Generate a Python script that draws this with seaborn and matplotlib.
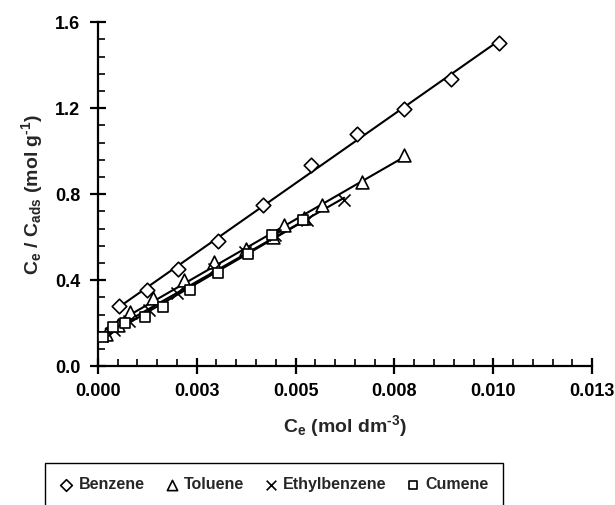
import matplotlib
matplotlib.use("Agg")
import matplotlib.pyplot as plt
import seaborn as sns
from matplotlib.ticker import MultipleLocator

# data
benzene_x = [0.00054, 0.00124, 0.00202, 0.00305, 0.00417, 0.00538, 0.00655, 0.00773, 0.00892, 0.01014]
benzene_y = [0.279, 0.353, 0.454, 0.583, 0.749, 0.938, 1.082, 1.198, 1.335, 1.503]

toluene_x = [0.0002, 0.0005, 0.00081, 0.0014, 0.00217, 0.00293, 0.00375, 0.00443, 0.0047, 0.00521, 0.00568, 0.00668, 0.00773]
toluene_y = [0.15, 0.19, 0.253, 0.315, 0.40, 0.486, 0.547, 0.601, 0.656, 0.691, 0.749, 0.857, 0.981]

ethyl_x = [0.0001, 0.0004, 0.0008, 0.0013, 0.0020, 0.00293, 0.00373, 0.00449, 0.0053, 0.00623]
ethyl_y = [0.14, 0.17, 0.21, 0.26, 0.34, 0.454, 0.532, 0.609, 0.679, 0.772]

cumene_x = [0.00013, 0.00039, 0.0007, 0.00119, 0.00166, 0.00234, 0.00305, 0.0038, 0.00441, 0.0052]
cumene_y = [0.136, 0.183, 0.20, 0.229, 0.276, 0.353, 0.431, 0.52, 0.609, 0.68]

x_ticks = [0.0, 0.0025, 0.005, 0.0075, 0.01, 0.0125]
x_tick_labels = ["0.000", "0.003", "0.005", "0.008", "0.010", "0.013"]
y_ticks = [0.0, 0.4, 0.8, 1.2, 1.6]
y_tick_labels = ["0.0", "0.4", "0.8", "1.2", "1.6"]

sns.set_style("ticks")
plt.rcParams["font.family"] = ["Liberation Sans", "DejaVu Sans"]
plt.rcParams["font.weight"] = "bold"
plt.rcParams["mathtext.fontset"] = "custom"
plt.rcParams["mathtext.rm"] = "Liberation Sans:bold"
plt.rcParams["mathtext.it"] = "Liberation Sans:bold"
plt.rcParams["mathtext.default"] = "rm"

fig = plt.figure(figsize=(6.15, 5.05), dpi=100)
ax = fig.add_axes([0.159, 0.275, 0.804, 0.681])

series = [
    ("Benzene", benzene_x, benzene_y, "D", 55),
    ("Toluene", toluene_x, toluene_y, "^", 85),
    ("Ethylbenzene", ethyl_x, ethyl_y, "x", 75),
    ("Cumene", cumene_x, cumene_y, "s", 55),
]

for name, xs, ys, mk, size in series:
    sns.regplot(x=xs, y=ys, ax=ax, scatter=False, ci=None,
                line_kws={"color": "black", "linewidth": 1.5}, truncate=True)
    if mk == "x":
        sns.scatterplot(x=xs, y=ys, ax=ax, marker=mk, s=size, color="black",
                        linewidth=1.2, label=name, zorder=3)
    else:
        sns.scatterplot(x=xs, y=ys, ax=ax, marker=mk, s=size, facecolor="white",
                        edgecolor="black", linewidth=1.2, label=name, zorder=3)

ax.set_xlim(0, 0.0125)
ax.set_ylim(0, 1.6)
ax.set_xticks(x_ticks)
ax.set_xticklabels(x_tick_labels)
ax.set_yticks(y_ticks)
ax.set_yticklabels(y_tick_labels)
ax.xaxis.set_minor_locator(MultipleLocator(0.0005))
ax.yaxis.set_minor_locator(MultipleLocator(0.08))
ax.tick_params(which="major", direction="inout", length=11, width=1.6,
               labelsize=13, colors="black", pad=7)
ax.tick_params(which="minor", direction="in", length=5, width=1.4)
for lab in ax.get_xticklabels() + ax.get_yticklabels():
    lab.set_fontweight("bold")
sns.despine(ax=ax)
for sp in ["left", "bottom"]:
    ax.spines[sp].set_linewidth(1.6)
    ax.spines[sp].set_color("black")

ax.set_xlabel(r"C$_{e}$ (mol dm$^{‐3}$)", fontsize=14, fontweight="bold", labelpad=9)
ax.set_ylabel(r"C$_{e}$ / C$_{ads}$ (mol g$^{‐1}$)", fontsize=14, fontweight="bold", labelpad=7)

handles, labels = ax.get_legend_handles_labels()
ax.get_legend().remove()
leg = fig.legend(handles, labels, loc="upper left", ncol=4, mode="expand",
                 bbox_to_anchor=(0.073, -0.3, 0.745, 0.383), borderaxespad=0,
                 frameon=True, fancybox=False, edgecolor="black", framealpha=1,
                 prop={"size": 11.5, "weight": "bold"}, handletextpad=0.3,
                 borderpad=0.9, handlelength=0.9, markerscale=0.8)
leg.get_frame().set_linewidth(1.0)

fig.savefig("out.png", dpi=100)
